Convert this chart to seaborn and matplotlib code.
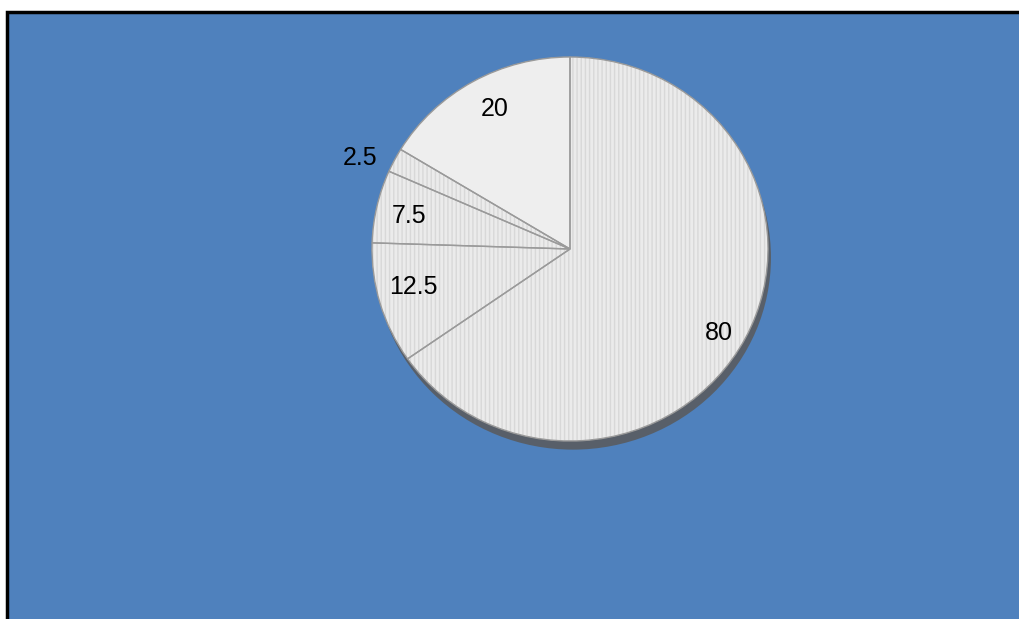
import matplotlib
matplotlib.use("Agg")
import matplotlib.pyplot as plt
import seaborn as sns
import numpy as np
from matplotlib.patches import Rectangle, Ellipse

sns.set_theme(style="white")
plt.rcParams['font.family'] = ['Liberation Sans', 'DejaVu Sans']

# slice values, clockwise from 12 o'clock
values = [80, 12.5, 7.5, 2.5, 20]
labels = ["80", "12.5", "7.5", "2.5", "20"]
label_dist = [0.87, 0.81, 0.82, 1.17, 0.79]
# small label nudges (pixels, x right / y up)
nudge_px = [(-4, -7), (-3, 6), (-3, -2), (-5, -13), (1, 8)]

fig = plt.figure(figsize=(10.19, 6.19), dpi=100)
fig.patch.set_facecolor("white")

# blue chart area with black border on left/top
fig.patches.append(Rectangle((7 / 1019, -0.05), 1.1, (619 - 12) / 619 + 0.05,
                             transform=fig.transFigure, facecolor="#4F81BD",
                             edgecolor="black", linewidth=2.5, zorder=-5))

ax = fig.add_axes([372 / 1019, (619 - 441) / 619, 396 / 1019, 384 / 619])
ax.set_zorder(5)
ax.patch.set_alpha(0)

# shadow
ax.add_patch(Ellipse((0.015, -0.045), 2.0, 2.0, facecolor="#5a5a5a",
                     edgecolor="none", alpha=0.85, zorder=0, clip_on=False))

wedges, _ = ax.pie(values, startangle=90, counterclock=False, radius=1,
                   colors=["#ebebeb"] * len(values),
                   wedgeprops=dict(linewidth=0), frame=True)
for w in wedges:
    w.set_hatch("||||")
    w.set_edgecolor("#d8d8d8")
    w.set_linewidth(0)
    w.set_clip_on(False)
wedges[-1].set_hatch(None)
wedges[-1].set_facecolor("#eeeeee")

# outlines
outl, _ = ax.pie(values, startangle=90, counterclock=False, radius=1,
                 colors=["none"] * len(values),
                 wedgeprops=dict(linewidth=1.0, edgecolor="#9a9a9a", fill=False),
                 frame=True)
for w in outl:
    w.set_clip_on(False)
ax.set_xlim(-1, 1)
ax.set_ylim(-1, 1)
ax.set_aspect("auto")
ax.axis("off")

for w, lab, d, (nx, ny) in zip(wedges, labels, label_dist, nudge_px):
    mid = np.deg2rad((w.theta1 + w.theta2) / 2)
    ax.annotate(lab, (d * np.cos(mid), d * np.sin(mid)),
                xytext=(nx * 0.72, ny * 0.72), textcoords="offset points",
                ha="center", va="center", fontsize=18, color="black",
                annotation_clip=False)

fig.savefig("out.png", dpi=100)
